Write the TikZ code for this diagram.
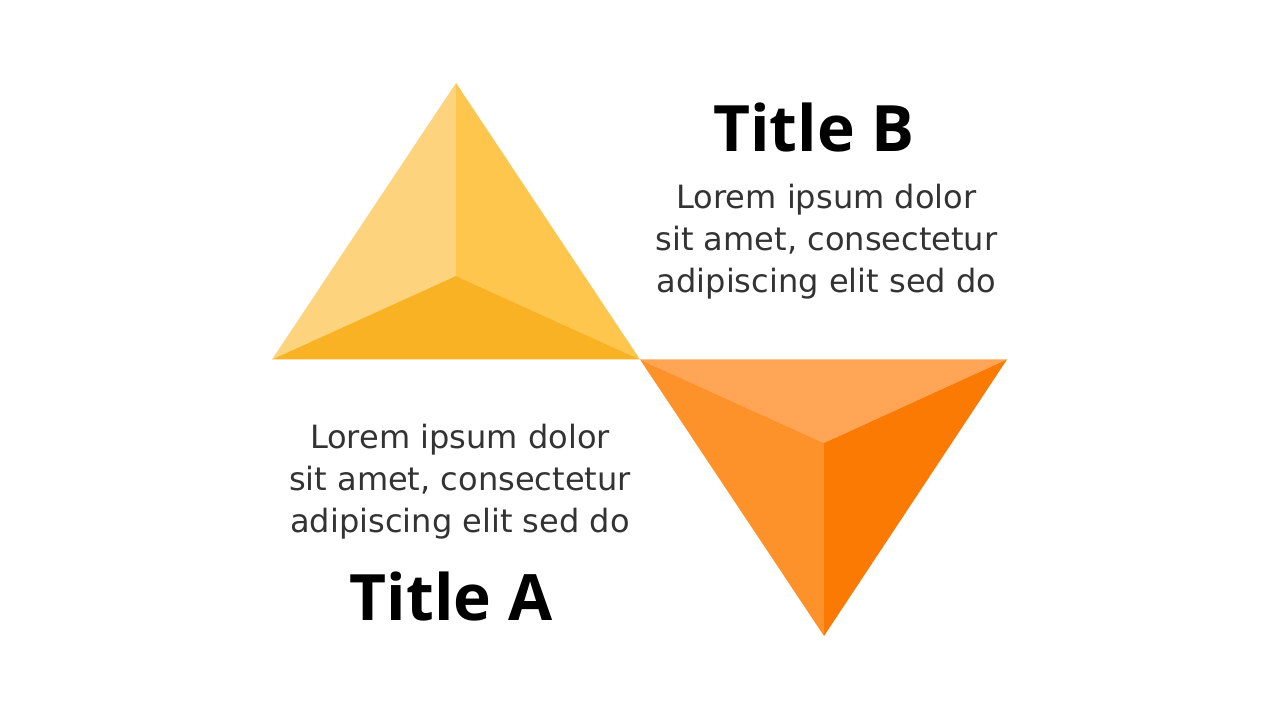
\documentclass[tikz,border=0pt]{standalone}
\usepackage{fontspec}
\setmainfont{DejaVu Sans}
\newfontfamily\titlefont{Open Sans}
\usepackage{tikz}
\usetikzlibrary{calc}
\definecolor{yelLeft}{HTML}{FDD47D}
\definecolor{yelRight}{HTML}{FEC64D}
\definecolor{yelBottom}{HTML}{F9B223}
\definecolor{oraTop}{HTML}{FFA555}
\definecolor{oraLeft}{HTML}{FD912A}
\definecolor{oraRight}{HTML}{FA7A03}
\definecolor{bodygray}{HTML}{333333}
\tikzset{
	face/.style={draw=none},
	bodytext/.style={align=center, inner sep=0pt, text=bodygray, font=\fontsize{22.8}{29.9}\selectfont},
	titletext/.style={anchor=base, inner sep=0pt, text=black, font=\titlefont\bfseries\fontsize{45.5}{50}\selectfont}
}
\begin{document}
\begin{tikzpicture}[x=0.025cm, y=-0.025cm]
		%%%%% START %%%%%
		\useasboundingbox[fill=white] (0, 0) rectangle (1280, 720);
		
		% yellow pyramid
		\coordinate (yTop) at (456, 83);
		\coordinate (yLeft) at (272, 359.5);
		\coordinate (yRight) at (640, 359.5);
		\coordinate (yMid) at (456, 276);
		\fill[face, yelLeft] (yTop) -- (yMid) -- (yLeft) -- cycle;
		\fill[face, yelRight] (yTop) -- (yRight) -- (yMid) -- cycle;
		\fill[face, yelBottom] (yLeft) -- (yMid) -- (yRight) -- cycle;
		
		% orange pyramid
		\coordinate (oLeft) at (640, 359.5);
		\coordinate (oRight) at (1007, 359.5);
		\coordinate (oBottom) at (824, 636);
		\coordinate (oMid) at (824, 443);
		\fill[face, oraTop] (oLeft) -- (oRight) -- (oMid) -- cycle;
		\fill[face, oraLeft] (oLeft) -- (oMid) -- (oBottom) -- cycle;
		\fill[face, oraRight] (oRight) -- (oBottom) -- (oMid) -- cycle;
		
		% texts
		\node[titletext] (titleB) at (814, 152) {Title B};
		\node[bodytext] (textB) at (826.5, 242) {Lorem ipsum dolor\\sit amet, consectetur\\adipiscing elit sed do};
		
		\node[bodytext] (textA) at (460, 482) {Lorem ipsum dolor\\sit amet, consectetur\\adipiscing elit sed do};
		\node[titletext] (titleA) at (451, 620) {Title A};
		
		%%%%% END %%%%%
	\end{tikzpicture}
\end{document}
